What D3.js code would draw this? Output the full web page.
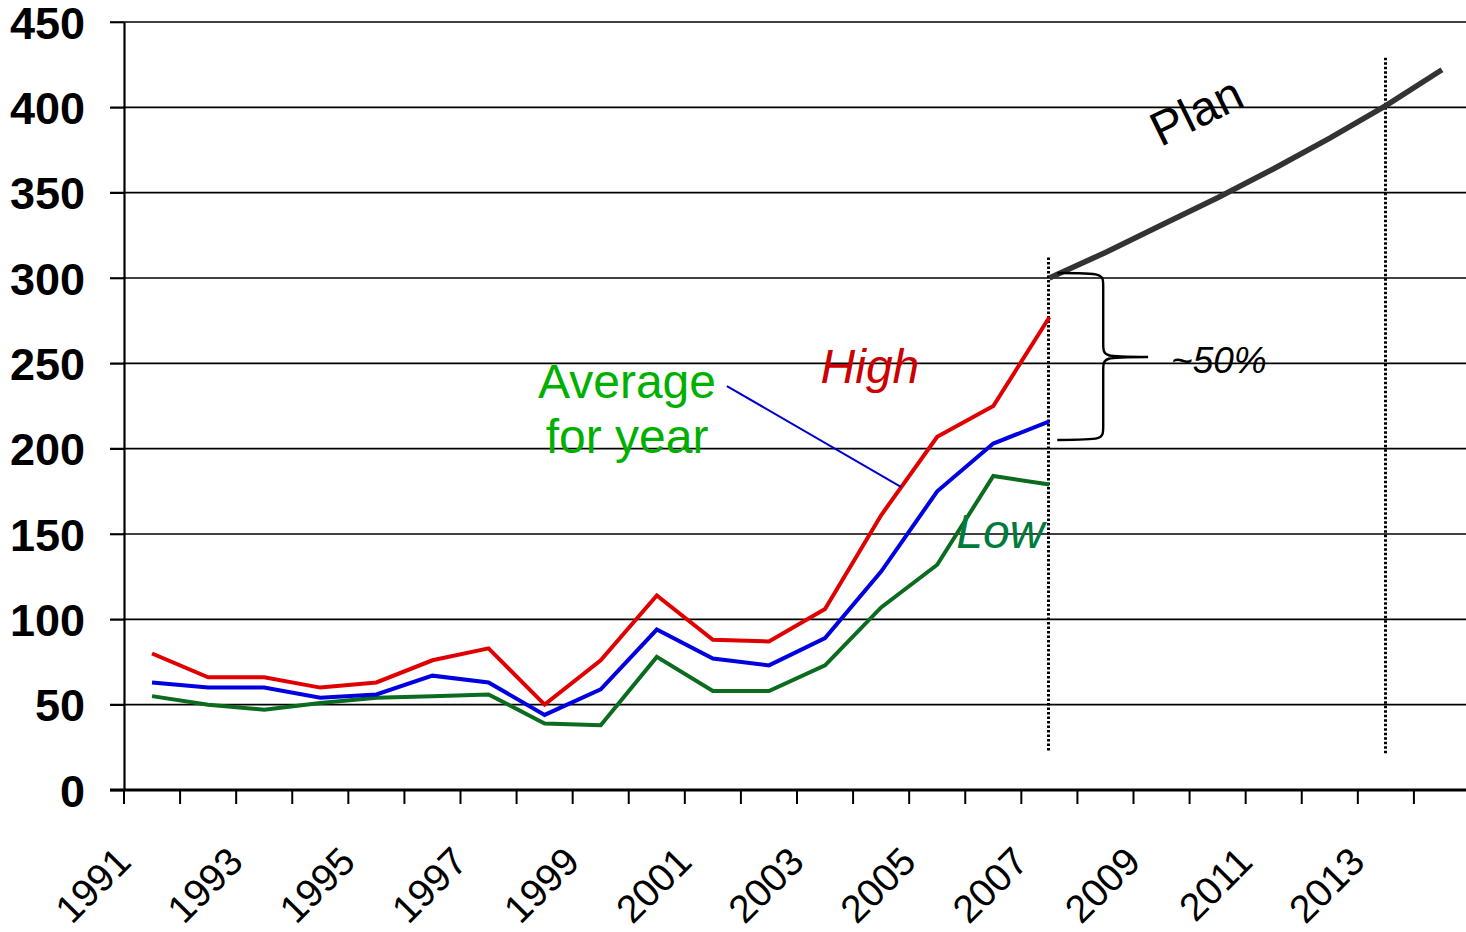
<!DOCTYPE html>
<html>
<head>
<meta charset="utf-8">
<script src="https://cdn.jsdelivr.net/npm/d3@7"></script>
<style>
  html, body { margin: 0; padding: 0; background: #fff; }
  svg { display: block; font-family: "Liberation Sans", Arial, sans-serif; }
</style>
</head>
<body>
<svg id="chart" width="1466" height="932"></svg>
<script>
// ---- data ----
const years = d3.range(1991, 2015); // 1991..2014 category axis
const histYears = d3.range(1991, 2008); // 1991..2007
const highValues = [80, 66, 66, 60, 63, 76, 83, 50, 76, 114, 88, 87, 106, 161, 207, 225, 277];
const avgValues  = [63, 60, 60, 54, 56, 67, 63, 44, 59, 94, 77, 73, 89, 128, 175, 203, 216];
const lowValues  = [55, 50, 47, 51, 54, 55, 56, 39, 38, 78, 58, 58, 73, 107, 132, 184, 179];
const planYears  = [2007, 2008, 2009, 2010, 2011, 2012, 2013, 2014];
const planValues = [300, 315, 331, 347, 364, 382, 401, 422];
const yTicks = [0, 50, 100, 150, 200, 250, 300, 350, 400, 450];
const xLabelYears = [1991, 1993, 1995, 1997, 1999, 2001, 2003, 2005, 2007, 2009, 2011, 2013];
const markerYears = [2007, 2013];

// ---- layout ----
const svg = d3.select("#chart");
const pLeft = 124, pRight = 1470, pTop = 22, pBottom = 790;

const x = d3.scaleBand().domain(years).range([pLeft, pRight]).paddingInner(0).paddingOuter(0);
const xc = yr => x(yr) + x.bandwidth() / 2;
// continuous helper in year units (for annotations)
const xl = d3.scaleLinear().domain([1991, 2014]).range([xc(1991), xc(2014)]);
const y = d3.scaleLinear().domain([0, 450]).range([pBottom, pTop]);

// gridlines
svg.append("g").selectAll("line").data(yTicks.filter(d => d > 0)).join("line")
  .attr("x1", pLeft - 14).attr("x2", pRight)
  .attr("y1", d => y(d)).attr("y2", d => y(d))
  .attr("stroke", "#000").attr("stroke-width", 1.6);

// y axis
const yAxis = d3.axisLeft(y).tickValues(yTicks).tickSize(14).tickSizeOuter(0).tickPadding(25);
const gy = svg.append("g").attr("transform", `translate(${pLeft},0)`).call(yAxis);
gy.select(".domain").attr("stroke", "#000").attr("stroke-width", 2.2);
gy.selectAll(".tick line").attr("stroke", "#000").attr("stroke-width", 1.6);
gy.selectAll(".tick text")
  .attr("font-family", "'Liberation Sans', Arial, sans-serif")
  .attr("font-size", 45).attr("font-weight", "bold").attr("fill", "#000")
  .attr("dy", "0.36em");

// x axis line + ticks at band boundaries
svg.append("line").attr("x1", pLeft - 14).attr("x2", pRight)
  .attr("y1", pBottom).attr("y2", pBottom)
  .attr("stroke", "#000").attr("stroke-width", 2.8);
const boundaries = years.map(d => x(d)).concat([pRight]);
svg.append("g").selectAll("line").data(boundaries).join("line")
  .attr("x1", d => d).attr("x2", d => d)
  .attr("y1", pBottom).attr("y2", pBottom + 14)
  .attr("stroke", "#000").attr("stroke-width", 2);

// x labels, rotated
svg.append("g").selectAll("text").data(xLabelYears).join("text")
  .attr("transform", d => `translate(${xc(d) - 19},${pBottom + 74}) rotate(-45)`)
  .attr("text-anchor", "end")
  .attr("font-size", 39).attr("fill", "#000")
  .text(d => d);

// dotted vertical markers
svg.append("g").selectAll("line").data(markerYears).join("line")
  .attr("x1", d => Math.round(xc(d)) - 0.5).attr("x2", d => Math.round(xc(d)) - 0.5)
  .attr("y1", d => y(d === 2007 ? 312 : 429)).attr("y2", d => d === 2007 ? pBottom - 38 : pBottom - 35)
  .attr("stroke", "#000").attr("stroke-width", 3).attr("stroke-dasharray", "2.5,2");

// series lines
const line = d3.line().x(d => xc(d[0])).y(d => y(d[1]));
function drawSeries(vals, yrs, color, w) {
  svg.append("path")
    .datum(yrs.map((yr, i) => [yr, vals[i]]))
    .attr("d", line)
    .attr("fill", "none").attr("stroke", color).attr("stroke-width", w)
    .attr("stroke-linejoin", "miter").attr("stroke-linecap", "butt");
}
drawSeries(lowValues, histYears, "#0B6B1E", 4);
drawSeries(avgValues, histYears, "#0000E0", 4);
drawSeries(highValues, histYears, "#E00000", 4);
drawSeries(planValues, planYears, "#333333", 5.5);

// leader line for average
svg.append("line")
  .attr("x1", xl(2001.25)).attr("y1", y(236.7))
  .attr("x2", xl(2004.36)).attr("y2", y(177.5))
  .attr("stroke", "#0000CC").attr("stroke-width", 2);

// annotations
svg.append("text").attr("x", xl(1999.47)).attr("y", y(229.7))
  .attr("text-anchor", "middle").attr("font-size", 48).attr("fill", "#00B000").text("Average");
svg.append("text").attr("x", xl(1999.47)).attr("y", y(197.5))
  .attr("text-anchor", "middle").attr("font-size", 48).attr("fill", "#00B000").text("for year");
svg.append("text").attr("x", xl(2002.92)).attr("y", y(238.5))
  .attr("font-size", 48).attr("font-style", "italic").attr("fill", "#CC0000").text("High");
svg.append("text").attr("x", xl(2005.34)).attr("y", y(141.8))
  .attr("font-size", 48).attr("font-style", "italic").attr("fill", "#007A3D").text("Low");
svg.append("text").attr("x", xl(2009.17)).attr("y", y(244.3))
  .attr("font-size", 37).attr("font-style", "italic").attr("fill", "#000").text("~50%");
svg.append("text")
  .attr("transform", `translate(${xl(2009.75)},${y(389)}) rotate(-26)`)
  .attr("text-anchor", "middle")
  .attr("font-size", 48).attr("fill", "#000").text("Plan");

// brace
const bx0 = xl(2007.14), bx1 = xl(2007.96), bx2 = xl(2008.76);
const byT = y(302.9), byM = y(253.7), byB = y(205.1);
const r = 14;
const bracePath = `M${bx0},${byT} C${bx1},${byT} ${bx1},${byT} ${bx1},${byT + r}
  L${bx1},${byM - r} C${bx1},${byM} ${bx1},${byM} ${bx2},${byM}
  C${bx1},${byM} ${bx1},${byM} ${bx1},${byM + r}
  L${bx1},${byB - r} C${bx1},${byB} ${bx1},${byB} ${bx0},${byB}`;
svg.append("path").attr("d", bracePath)
  .attr("fill", "none").attr("stroke", "#000").attr("stroke-width", 2.4);
</script>
</body>
</html>
